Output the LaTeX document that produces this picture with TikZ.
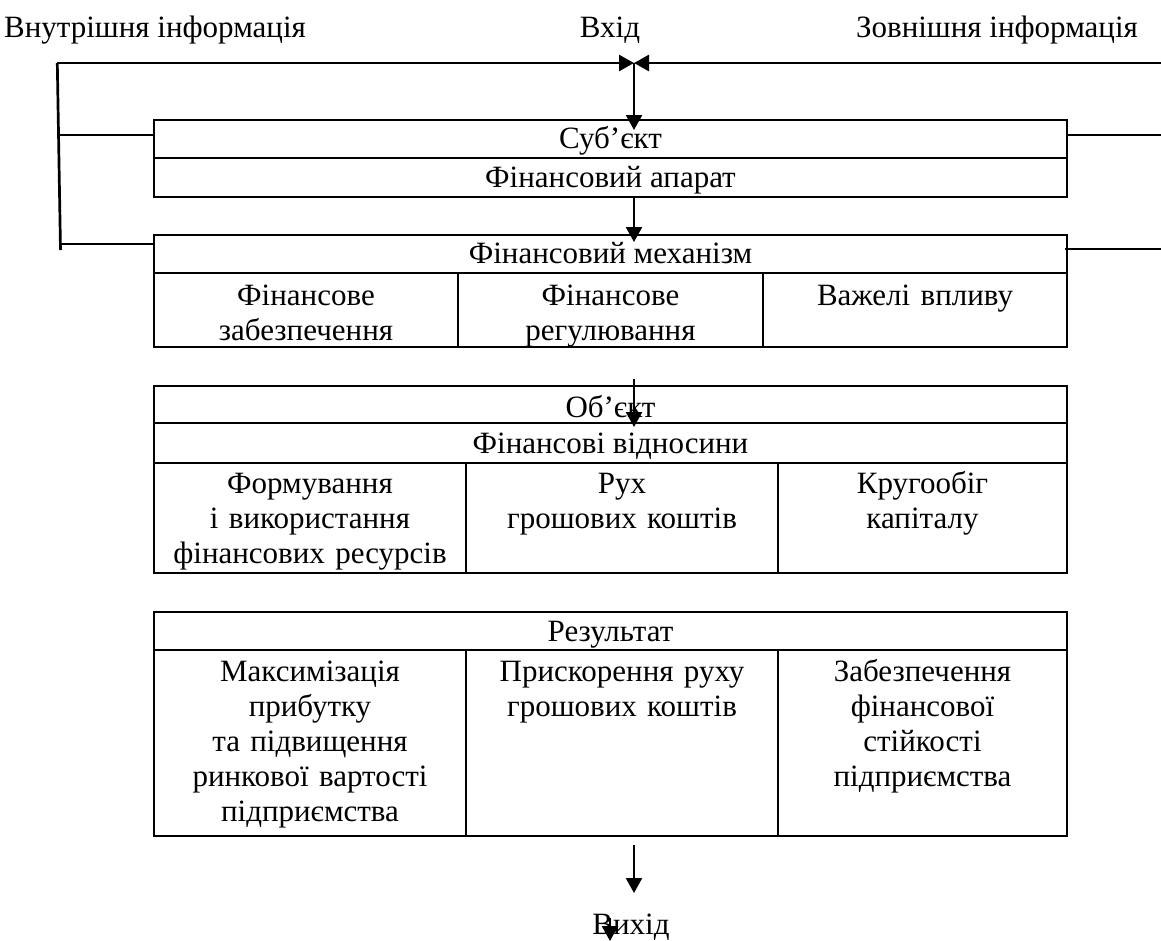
\documentclass[tikz,border=0pt]{standalone}
\usepackage{fontspec}
\setmainfont{Liberation Serif}
\usetikzlibrary{arrows.meta}
\newcommand\mkcell[5]{\node[cell, minimum width={#4-#2}, minimum height={#5-#3}] (#1) at ({(#2+#4)/2},{(#3+#5)/2}) {};}
\begin{document}
\begin{tikzpicture}[x=1pt,y=-1pt,
  cell/.style={draw, line width=2.8pt, inner sep=0pt, rectangle},
  lbl/.style={inner sep=0pt, anchor=base, align=center, font=\fontsize{31}{35}\selectfont},
  conn/.style={line width=2.3pt},
  arr/.style={line width=2.3pt, -{Triangle[length=15pt,width=16pt]}}]
\useasboundingbox (0,0) rectangle (1161,940);
% top labels
\node[lbl] (inner) at (155,37) {Внутрішня інформація};
\node[lbl] (vhid) at (610,37) {Вхід};
\node[lbl] (outer) at (997,37) {Зовнішня інформація};
% box 1
\mkcell{subj}{154}{120}{1067}{158}
\mkcell{app}{154}{158}{1067}{197}
\node[lbl] at (610.5,148) {Суб’єкт};
\node[lbl] at (610.5,187) {Фінансовий апарат};
% box 2
\mkcell{mech}{154}{235}{1067}{273}
\mkcell{m1}{154}{273}{458}{347}
\mkcell{m2}{458}{273}{763}{347}
\mkcell{m3}{763}{273}{1067}{347}
\node[lbl] at (610.5,263) {Фінансовий механізм};
\node[lbl, text width=300pt] at (306,305) {Фінансове\\забезпечення};
\node[lbl, text width=300pt] at (610.5,305) {Фінансове\\регулювання};
\node[lbl, text width=300pt] at (915,305) {Важелі впливу};
% box 3
\mkcell{obj}{154}{386}{1067}{423}
\mkcell{rel}{154}{423}{1067}{463}
\mkcell{o1}{154}{463}{466}{573}
\mkcell{o2}{466}{463}{778}{573}
\mkcell{o3}{778}{463}{1067}{573}
\node[lbl] at (610.5,417) {Об’єкт};
\node[lbl] at (610.5,453) {Фінансові відносини};
\node[lbl, text width=310pt] at (310,493) {Формування\\і використання\\фінансових ресурсів};
\node[lbl, text width=310pt] at (622,493) {Рух\\грошових коштів};
\node[lbl, text width=290pt] at (922.5,493) {Кругообіг\\капіталу};
% box 4
\mkcell{res}{154}{612}{1067}{650}
\mkcell{r1}{154}{650}{466}{836}
\mkcell{r2}{466}{650}{778}{836}
\mkcell{r3}{778}{650}{1067}{836}
\node[lbl] at (610.5,641) {Результат};
\node[lbl, text width=310pt] at (310,681) {Максимізація\\прибутку\\та підвищення\\ринкової вартості\\підприємства};
\node[lbl, text width=310pt] at (622,681) {Прискорення руху\\грошових коштів};
\node[lbl, text width=290pt] at (922.5,681) {Забезпечення\\фінансової\\стійкості\\підприємства};
\node[lbl] (vyhid) at (631,934) {Вихід};
% connectors
\coordinate (ltop) at (57.3,63);
\coordinate (rtop) at (1161,63);
\coordinate (jn) at (634,63);
\coordinate (lbot) at (60.5,250);
\coordinate (lt1) at (57.5,135);
\coordinate (lt2) at (59.5,244);
\coordinate (rt1) at (1161,135);
\coordinate (rt2) at (1161,249);
\draw[conn, line width=2.7pt] (ltop) -- (lbot);
\draw[arr, line width=2.7pt] (ltop) -- (jn);
\draw[arr, line width=2.7pt] (rtop) -- (jn);
\draw[conn] (lt1) -- (lt1 -| subj.west);
\draw[conn] (lt2) -- (lt2 -| mech.west);
\draw[conn] (rt1) -- (rt1 -| subj.east);
\draw[conn] (rt2) -- ([xshift=-3pt]rt2 -| mech.east);
\coordinate (a1) at (634,130);
\draw[arr] (jn) -- (a1);
\coordinate (b0) at (634,198);
\coordinate (b1) at (634,242);
\draw[arr] (b0) -- (b1);
\coordinate (c0) at (634,379);
\coordinate (c1) at (634,427);
\draw[arr] (c0) -- (c1);
\coordinate (d0) at (634,845);
\coordinate (d1) at (634,893);
\draw[arr] (d0) -- (d1);
\coordinate (e0) at (610,918);
\coordinate (e1) at (610,941);
\draw[arr] (e0) -- (e1);
\end{tikzpicture}
\end{document}
